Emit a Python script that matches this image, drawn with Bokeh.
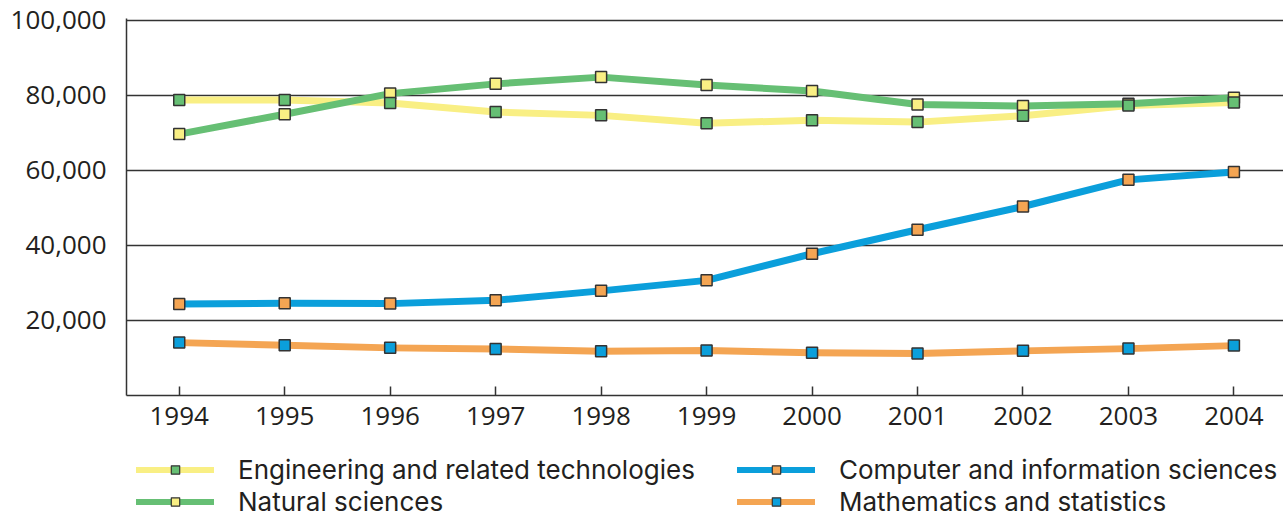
from bokeh.plotting import figure
from bokeh.models import Legend, LegendItem, FixedTicker, Range1d
from bokeh.layouts import column
from bokeh.embed import file_html
from bokeh.resources import INLINE

# ---- data ----
years = [1994, 1995, 1996, 1997, 1998, 1999, 2000, 2001, 2002, 2003, 2004]
engineering = [78800, 78800, 78000, 75600, 74700, 72600, 73400, 72900, 74600, 77300, 78100]
natural = [69700, 75000, 80500, 83100, 84900, 82800, 81200, 77600, 77200, 77800, 79400]
computer = [24400, 24600, 24500, 25400, 27900, 30700, 37800, 44200, 50400, 57500, 59600]
math_stats = [14100, 13400, 12700, 12400, 11800, 12000, 11400, 11200, 11900, 12500, 13300]
y_ticks = [20000, 40000, 60000, 80000, 100000]
y_tick_labels = ["20,000", "40,000", "60,000", "80,000", "100,000"]
labels = ["Engineering and related technologies", "Natural sciences",
          "Computer and information sciences", "Mathematics and statistics"]
series = [engineering, natural, computer, math_stats]

# ---- style ----
FONT = "Open Sans"
LEG_FONT = "Inter"
TXT = "#231F20"
DARK = "#333333"
YELLOW = "#F9EF84"
GREEN = "#66BF74"
BLUE = "#0B9FDB"
ORANGE = "#F4A553"
LW = 7
MS = 11

W = 1283
H1 = 445
H2 = 517 - H1

p = figure(width=W, height=H1, output_backend="svg", toolbar_location=None,
           x_range=Range1d(1993.5, 2004.47), y_range=Range1d(0, 100533),
           min_border_left=126, min_border_top=18, min_border_bottom=H1 - 395, min_border_right=0)
p.outline_line_color = None
p.background_fill_color = "white"
p.border_fill_color = "white"

# lines
p.line(years, math_stats, line_color=ORANGE, line_width=LW, line_cap="round", line_join="round")
p.line(years, computer, line_color=BLUE, line_width=LW, line_cap="round", line_join="round")
p.line(years, engineering, line_color=YELLOW, line_width=LW, line_cap="round", line_join="round")
p.line(years, natural, line_color=GREEN, line_width=LW, line_cap="round", line_join="round")
# markers
p.scatter(years, math_stats, marker="square", size=MS, fill_color=BLUE, line_color=DARK, line_width=1.5)
p.scatter(years, computer, marker="square", size=MS, fill_color=ORANGE, line_color=DARK, line_width=1.5)
p.scatter(years, natural, marker="square", size=MS, fill_color=YELLOW, line_color=DARK, line_width=1.5)
p.scatter(years, engineering, marker="square", size=MS, fill_color=GREEN, line_color=DARK, line_width=1.5)

# axes
p.xaxis.ticker = FixedTicker(ticks=years)
p.xaxis.major_tick_in = 9
p.xaxis.major_tick_out = 0
p.xaxis.minor_tick_line_color = None
p.xaxis.major_label_standoff = 11
p.yaxis.ticker = FixedTicker(ticks=y_ticks)
p.yaxis.major_label_overrides = {t: s for t, s in zip(y_ticks, y_tick_labels)}
p.yaxis.minor_tick_line_color = None
p.yaxis.major_label_standoff = 14
for ax in (p.xaxis[0], p.yaxis[0]):
    ax.axis_line_color = DARK
    ax.axis_line_width = 1.5
    ax.major_tick_line_width = 1.5
    ax.major_label_text_font = FONT
    ax.major_label_text_font_size = "26px"
    ax.major_label_text_color = TXT
p.xaxis.major_tick_line_color = DARK
p.yaxis.major_tick_line_color = None

p.xgrid.grid_line_color = None
p.ygrid.ticker = FixedTicker(ticks=y_ticks)
p.ygrid.grid_line_color = DARK
p.ygrid.grid_line_width = 1.5

# ---- legend strip below the chart (its view range hides the series themselves) ----
lg = figure(width=W, height=H2, output_backend="svg", toolbar_location=None,
            x_range=Range1d(0, 1), y_range=Range1d(0, 1),
            x_axis_location=None, y_axis_location=None,
            min_border_left=126, min_border_right=0, min_border_top=0, min_border_bottom=0)
lg.outline_line_color = None
lg.xgrid.grid_line_color = None
lg.ygrid.grid_line_color = None
lg.background_fill_color = "white"
lg.border_fill_color = "white"

line_colors = [YELLOW, GREEN, BLUE, ORANGE]
marker_colors = [GREEN, YELLOW, ORANGE, BLUE]
# left edge (from the frame's left) and row centre (from the strip's top) of each entry
col_x = [10, 10, 611, 611]
row_y = [24, 56, 24, 56]
ITEM_H = 31.5
for lab, vals, lc, mc, cx, cy in zip(labels, series, line_colors, marker_colors, col_x, row_y):
    rl = lg.line(years, vals, line_color=lc, line_width=6, line_cap="round")
    rm = lg.scatter(years, vals, marker="square", fill_color=mc, line_color=DARK, line_width=1.2)
    leg = Legend(items=[LegendItem(label=lab, renderers=[rl, rm])],
                 location=(cx, H2 - cy - ITEM_H / 2),
                 padding=0, spacing=0, margin=0,
                 border_line_color=None, background_fill_alpha=0,
                 glyph_width=78, glyph_height=21, label_standoff=24,
                 label_text_font=LEG_FONT, label_text_font_size="26px", label_text_color=TXT)
    lg.add_layout(leg)

page = column(p, lg, spacing=0)
open("out.html", "w").write(file_html(page, INLINE))
